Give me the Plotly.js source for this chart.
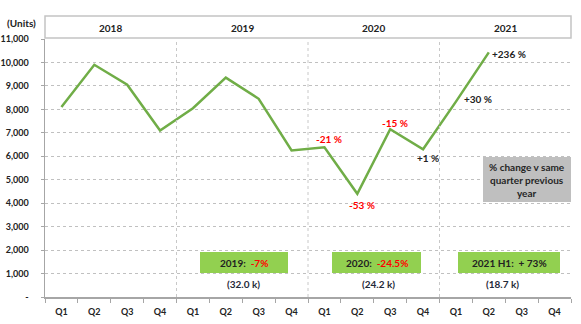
<!DOCTYPE html>
<html><head><meta charset="utf-8">
<script src="https://cdn.plot.ly/plotly-3.0.1.min.js"></script>
<style>html,body{margin:0;padding:0;background:#fff}#chart{width:581px;height:324px}</style>
</head><body><div id="chart"></div>
<script>
// ---- data ----
const years = ["2018", "2019", "2020", "2021"];
const quarters = ["Q1", "Q2", "Q3", "Q4"];
const units = [8100, 9900, 9050, 7100, 8050, 9350, 8450, 6250, 6380, 4400, 7150, 6300, 8330, 10430];
const pctIndex = [8, 9, 10, 11, 12, 13];
const pctText = ["-21 %", "-53 %", "-15 %", "+1 %", "+30 %", "+236 %"];
const summaryYear = ["2019:", "2020:", "2021 H1:"];
const summaryPct = ["-7%", "-24.5%", "+ 73%"];
const summaryTotal = ["(32.0 k)", "(24.2 k)", "(18.7 k)"];
const noteText = "% change v same<br>quarter previous<br>year";
const unitLabel = "(Units)";

// ---- build categories ----
const cats = [], tickText = [];
years.forEach(y => quarters.forEach(q => { cats.push(y + " " + q); tickText.push(q); }));

// ---- layout helpers (pixel -> paper) ----
const W = 581, H = 324, ML = 45, MR = 10, MT = 39, MB = 27;
const PW = W - ML - MR, PH = H - MT - MB;
const px = x => (x - ML) / PW;
const py = y => (H - MB - y) / PH;

const FONT = "Lato, 'Open Sans', sans-serif";
const DARK = "#222222";
const RED = "#ff0000";

const shapes = [];
const annotations = [];
const A = o => Object.assign({showarrow: false, xanchor: "center", yanchor: "middle"}, o);

// header band
shapes.push({type: "rect", xref: "paper", yref: "paper", x0: 0, x1: px(571), y0: py(38), y1: py(16),
  line: {color: "#c4c4c4", width: 1.5}, fillcolor: "#ffffff", layer: "below"});
// year dividers
[3.5, 7.5, 11.5].forEach(v => {
  shapes.push({type: "line", xref: "x", yref: "paper", x0: v, x1: v, y0: 0, y1: 1,
    line: {color: "#c8c8c8", width: 1, dash: "dot"}});
});
// year labels in header
years.forEach((y, i) => {
  annotations.push(A({xref: "x", yref: "paper", x: i * 4 + 1.5, y: py(28.5), text: "<b>" + y + "</b>",
    font: {family: FONT, size: 10, color: DARK}}));
});
// units label
annotations.push(A({xref: "paper", yref: "paper", x: px(21), y: py(23), text: "<b>" + unitLabel + "</b>",
  font: {family: FONT, size: 10, color: DARK}}));

// percentage labels near points
const pctStyle = [
  {xs: 5, ys: 8, col: RED},
  {xs: 5, ys: -11, col: RED},
  {xs: 5, ys: 6, col: RED},
  {xs: 5, ys: -9, col: DARK},
  {xs: 22, ys: 3, col: DARK},
  {xs: 20, ys: -2, col: DARK}
];
pctIndex.forEach((idx, k) => {
  annotations.push(A({xref: "x", yref: "y", x: cats[idx], y: units[idx], text: "<b>" + pctText[k] + "</b>",
    xshift: pctStyle[k].xs, yshift: pctStyle[k].ys,
    font: {family: FONT, size: 10, color: pctStyle[k].col}}));
});

// summary boxes
const boxes = [[200, 288], [332, 421], [458, 560]];
const totalX = [243, 378, 502];
boxes.forEach((b, i) => {
  shapes.push({type: "rect", xref: "paper", yref: "paper", x0: px(b[0]), x1: px(b[1]), y0: py(273), y1: py(252),
    line: {width: 0}, fillcolor: "#92d050"});
  const pctCol = i < 2 ? RED : DARK;
  annotations.push(A({xref: "paper", yref: "paper", x: px((b[0] + b[1]) / 2), y: py(262.5),
    text: "<b>" + summaryYear[i] + "\u00a0\u00a0<span style='color:" + pctCol + "'>" + summaryPct[i] + "</span></b>",
    font: {family: FONT, size: 10, color: DARK}}));
  annotations.push(A({xref: "paper", yref: "paper", x: px(totalX[i]), y: py(283.5), text: "<b>" + summaryTotal[i] + "</b>",
    font: {family: FONT, size: 10, color: "#1f2a3a"}}));
});

// note box
shapes.push({type: "rect", xref: "paper", yref: "paper", x0: px(483), x1: px(571), y0: py(202), y1: py(157),
  line: {width: 0}, fillcolor: "#bfbfbf"});
annotations.push(A({xref: "paper", yref: "paper", x: px(527), y: py(179.5), text: "<b>" + noteText + "</b>",
  align: "center", font: {family: FONT, size: 10, color: "#262626"}}));

const trace = {
  type: "scatter", mode: "lines", x: cats.slice(0, units.length), y: units,
  line: {color: "#70ad47", width: 2.5}, hoverinfo: "skip"
};

const layout = {
  width: W, height: H,
  margin: {l: ML, r: MR, t: MT, b: MB, pad: 0},
  paper_bgcolor: "#ffffff", plot_bgcolor: "#ffffff",
  showlegend: false,
  font: {family: FONT, size: 9, color: DARK},
  xaxis: {
    type: "category", categoryorder: "array", categoryarray: cats,
    range: [-0.5, 15.5], tickmode: "array", tickvals: cats, ticktext: tickText,
    tickson: "boundaries", ticks: "outside", ticklen: 4, tickcolor: "#a6a6a6",
    showline: true, linecolor: "#a6a6a6", linewidth: 1.5, showgrid: false, zeroline: false,
    tickfont: {family: FONT, size: 9, color: DARK, weight: 700}, fixedrange: true,
    ticklabelstandoff: 6
  },
  yaxis: {
    range: [0, 11000], tickmode: "linear", tick0: 0, dtick: 1000, tickformat: ",d",
    showline: true, linecolor: "#a6a6a6", linewidth: 1.5, ticks: "outside", ticklen: 3, tickcolor: "#a6a6a6",
    showgrid: true, gridcolor: "#c0c0c0", griddash: "dot", gridwidth: 1, zeroline: false,
    tickfont: {family: FONT, size: 9, color: DARK, weight: 700}, fixedrange: true,
    labelalias: {"0": "-"}, ticklabelstandoff: 10
  },
  shapes: shapes,
  annotations: annotations
};

Plotly.newPlot("chart", [trace], layout, {displayModeBar: false, staticPlot: true});
</script></body></html>
